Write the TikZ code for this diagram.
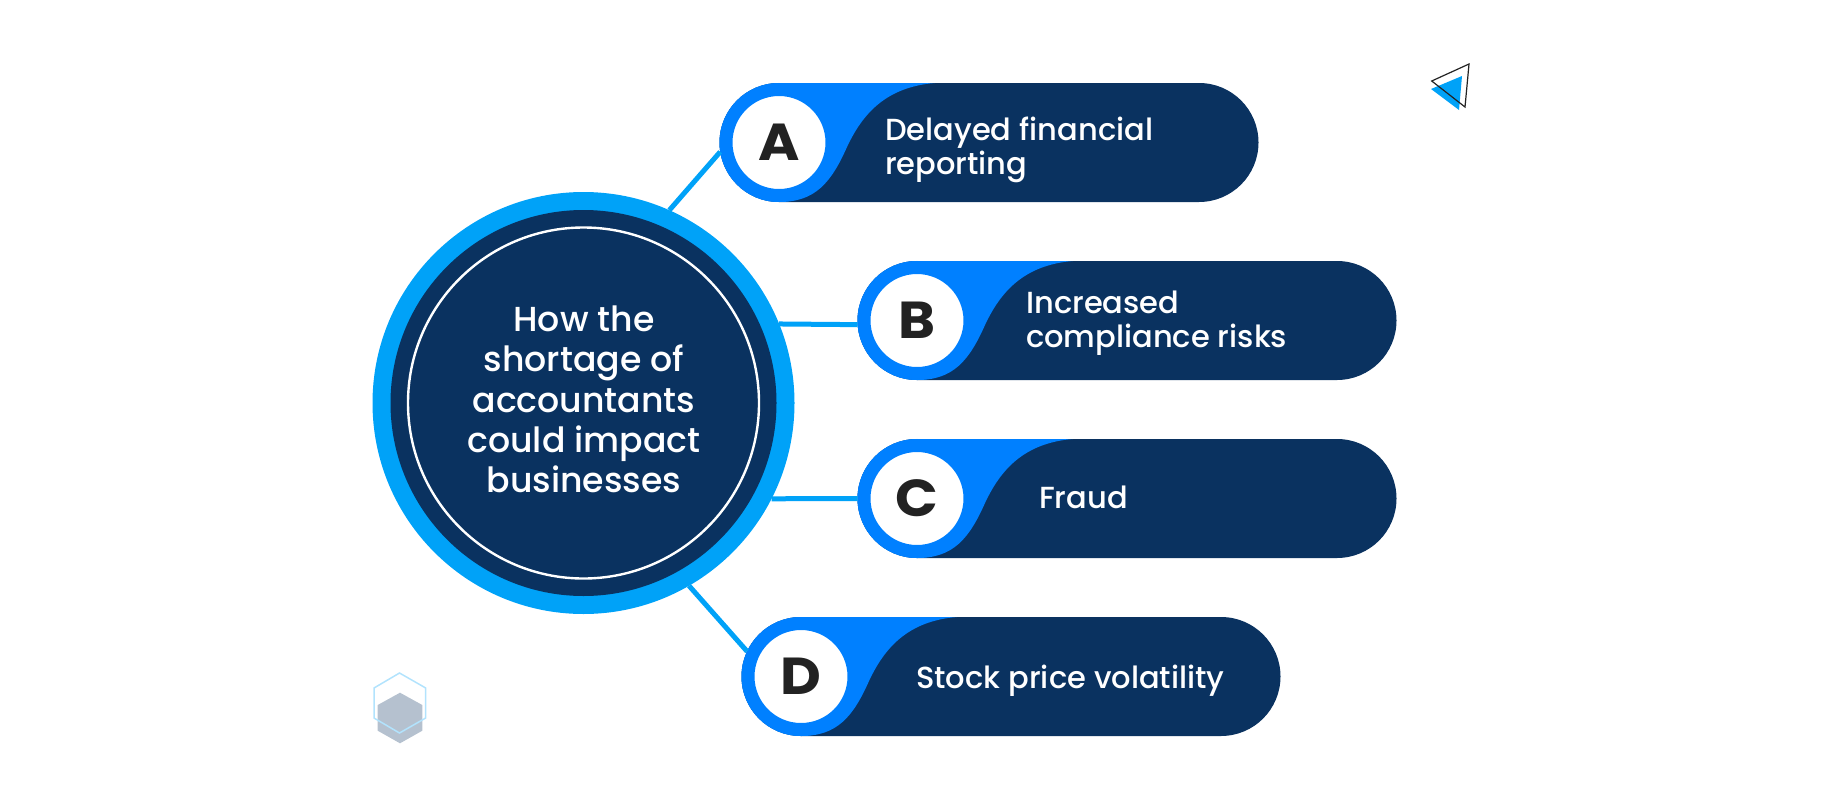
\documentclass[tikz,border=0pt]{standalone}
\usepackage{fontspec}
\usepackage{graphicx}
\setmainfont{Poppins}[UprightFont=* Medium,BoldFont=* Bold]
\definecolor{navy}{HTML}{0A3260}
\definecolor{azure}{HTML}{0080FF}
\definecolor{sky}{HTML}{00A2F8}
\definecolor{ink}{HTML}{222222}
\tikzset{
  x=1pt,y=-1pt,
  pill/.style={fill=navy},
  blob/.style={fill=azure},
  bubble/.style={circle,fill=white,draw=azure,line width=13pt,minimum size=106pt,inner sep=0pt,outer sep=6.5pt,font=\fontsize{52}{52}\selectfont\bfseries,text=ink},
  label/.style={text=white,align=left,font=\fontsize{30.5}{34}\selectfont,inner sep=0pt},
  link/.style={draw=sky,line width=5pt},
}
\newcommand{\pillshape}[3]{% x0, top, x1
  \fill[pill] (#1+60,#2) -- (#3-60,#2) arc[start angle=-90,end angle=90,radius=59.5] -- (#1+60,#2+119) arc[start angle=90,end angle=270,radius=59.5] -- cycle;
  \fill[blob] (#1+60,#2) -- (#1+216,#2) .. controls (#1+166,#2+4) and (#1+143,#2+32) .. (#1+128,#2+64) .. controls (#1+112,#2+100) and (#1+96,#2+119) .. (#1+60,#2+119) arc[start angle=90,end angle=270,radius=59.5] -- cycle;
}
\newcommand{\wideletter}[1]{\scalebox{1.08}[1]{#1}}
\begin{document}
\begin{tikzpicture}
\useasboundingbox (0,0) rectangle (1836,806);
% main circle
\node[circle,fill=sky,minimum size=422pt,inner sep=0pt,outer sep=0pt] (outer) at (583.5,403) {};
\node[circle,fill=navy,minimum size=386pt,inner sep=0pt,outer sep=0pt] (main) at (583.5,403) {};
\node[circle,draw=white,line width=2.4pt,minimum size=351pt,inner sep=0pt,outer sep=0pt] (ring) at (583.5,403) {};
\node[text=white,align=center,font=\fontsize{34.7}{40.3}\selectfont,inner sep=0pt] (title) at (584,399.5) {How the\\shortage of\\accountants\\could impact\\businesses};
% pills
\pillshape{719}{83}{1259}
\pillshape{857}{261}{1397}
\pillshape{857}{439}{1397}
\pillshape{741}{617}{1281}
\node[bubble] (bA) at (779,142.5) {\wideletter{A}};
\node[bubble] (bB) at (917,320.5) {\wideletter{B}};
\node[bubble] (bC) at (917,498.5) {\wideletter{C}};
\node[bubble] (bD) at (801,676.5) {\wideletter{D}};
% connectors
\draw[link] (outer.66) -- (bA.189);
\draw[link] (outer.22) -- (bB.184);
\draw[link] (outer.-27.6) -- (bC.west);
\draw[link] (outer.-60.6) -- (bD.155);
% labels
\node[label,anchor=west] (tA) at (885,149.5) {Delayed financial\\reporting};
\node[label,anchor=west] (tB) at (1026,323.5) {Increased\\compliance risks};
\node[label,anchor=west] (tC) at (1039,497) {Fraud};
\node[label,anchor=west] (tD) at (916,680.5) {Stock price volatility};
% decorations
\fill[sky] (1431,89) -- (1462,76) -- (1459,110) -- cycle;
\draw[ink,line width=1.2pt,line join=miter] (1431.7,81) -- (1469,64) -- (1465,107) -- cycle;
\fill[fill=navy,fill opacity=.3] (400,692.7) -- (422.3,705) -- (422.3,730.7) -- (400,743.3) -- (377.7,730.7) -- (377.7,705) -- cycle;
\draw[color=sky!30,line width=1.5pt] (399.5,673) -- (425.7,688) -- (425.7,718) -- (399.5,733) -- (374,718) -- (374,688) -- cycle;
\end{tikzpicture}
\end{document}
